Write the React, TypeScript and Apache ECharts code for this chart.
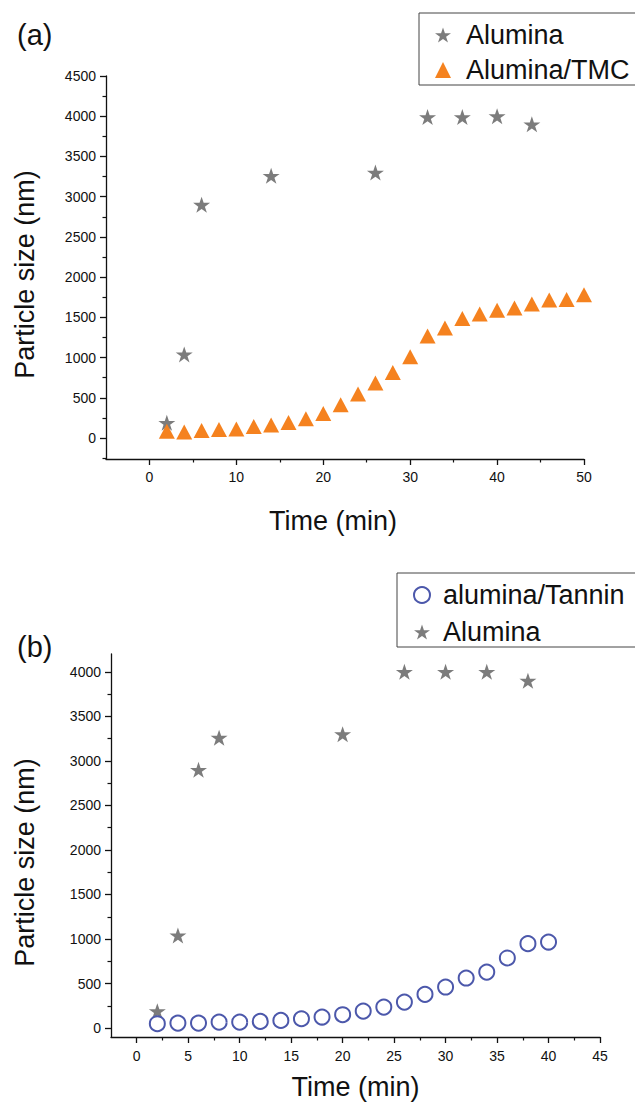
import React, { useEffect, useRef } from "react";
import * as echarts from "echarts";

// ---- Data ----
const timeAluminaA = [2, 4, 6, 14, 26, 32, 36, 40, 44];
const sizeAluminaA = [190, 1040, 2900, 3260, 3300, 3990, 3990, 4000, 3900];

const timeTMC = [2, 4, 6, 8, 10, 12, 14, 16, 18, 20, 22, 24, 26, 28, 30, 32, 34, 36, 38, 40, 42, 44, 46, 48, 50];
const sizeTMC = [85, 75, 93, 106, 112, 143, 162, 193, 240, 305, 414, 547, 684, 815, 1010, 1270, 1368, 1486, 1542, 1590, 1617, 1665, 1716, 1722, 1780];

const timeAluminaB = [2, 4, 6, 8, 20, 26, 30, 34, 38];
const sizeAluminaB = [190, 1040, 2900, 3260, 3300, 4000, 4000, 4000, 3900];

const timeTannin = [2, 4, 6, 8, 10, 12, 14, 16, 18, 20, 22, 24, 26, 28, 30, 32, 34, 36, 38, 40];
const sizeTannin = [49, 56, 56, 67, 67, 75, 86, 105, 124, 150, 191, 236, 292, 379, 461, 562, 629, 787, 948, 966];

const xTicksA = [0, 10, 20, 30, 40, 50];
const xMinorA = [5, 15, 25, 35, 45];
const yTicksA = [0, 500, 1000, 1500, 2000, 2500, 3000, 3500, 4000, 4500];
const yMinorA = [-250, 250, 750, 1250, 1750, 2250, 2750, 3250, 3750, 4250];

const xTicksB = [0, 5, 10, 15, 20, 25, 30, 35, 40, 45];
const xMinorB = [2.5, 7.5, 12.5, 17.5, 22.5, 27.5, 32.5, 37.5, 42.5];
const yTicksB = [0, 500, 1000, 1500, 2000, 2500, 3000, 3500, 4000];
const yMinorB = [250, 750, 1250, 1750, 2250, 2750, 3250, 3750];

const FONT = '"Liberation Sans", Arial, sans-serif';
const STAR = "path://M50 0 L61.8 35.1 L98.9 35.1 L68.9 56.8 L80.4 91.9 L50 70.2 L19.6 91.9 L31.1 56.8 L1.1 35.1 L38.2 35.1 Z";
const GRAY = "#7c7c7c";
const ORANGE = "#f5821f";
const BLUE = "#4c58ab";

function pairs(xs: number[], ys: number[]) {
  return xs.map((x, i) => [x, ys[i]]);
}

function mainAxis(grid: number, min: number, max: number, ticks: number[], margin: number, extra: any) {
  return {
    type: "value",
    gridIndex: grid,
    min,
    max,
    splitLine: { show: false },
    axisLine: { show: true, onZero: false, lineStyle: { color: "#111", width: 1.3 } },
    axisTick: { show: true, customValues: ticks, length: 6, lineStyle: { color: "#111", width: 1.3 } },
    axisLabel: {
      customValues: ticks,
      margin,
      color: "#111",
      fontSize: 14,
      fontFamily: FONT,
      formatter: (v: number) => String(v),
    },
    ...extra,
  };
}

function minorAxis(grid: number, min: number, max: number, ticks: number[], position: string) {
  return {
    type: "value",
    gridIndex: grid,
    position,
    min,
    max,
    splitLine: { show: false },
    axisLine: { show: false, onZero: false },
    axisTick: { show: true, customValues: ticks, length: 3.5, lineStyle: { color: "#111", width: 1.2 } },
    axisLabel: { show: false },
  };
}

export default function App() {
  const ref = useRef<HTMLDivElement>(null);
  useEffect(() => {
    if (!ref.current) return;
    const chart = echarts.init(ref.current, null, { renderer: "svg" });
    const nameStyle = { fontSize: 27, fontFamily: FONT, color: "#111" };
    const legendText = { fontSize: 27, fontFamily: FONT, color: "#111", lineHeight: 28 };
    chart.setOption({
      animation: false,
      backgroundColor: "#fff",
      grid: [
        { left: 106, top: 76, width: 478, height: 383 },
        { left: 111, top: 654, width: 489, height: 383 },
      ],
      xAxis: [
        mainAxis(0, -5, 50, xTicksA, 11, {
          position: "bottom",
          name: "Time (min)",
          nameLocation: "middle",
          nameGap: 48,
          nameTextStyle: { ...nameStyle, padding: [0, 24, 0, 0] },
        }),
        minorAxis(0, -5, 50, xMinorA, "bottom"),
        mainAxis(1, -2.5, 45, xTicksB, 12, {
          position: "bottom",
          name: "Time (min)",
          nameLocation: "middle",
          nameGap: 36,
          nameTextStyle: nameStyle,
        }),
        minorAxis(1, -2.5, 45, xMinorB, "bottom"),
      ],
      yAxis: [
        mainAxis(0, -260, 4500, yTicksA, 10, {
          position: "left",
          name: "Particle size (nm)",
          nameLocation: "middle",
          nameGap: 68,
          nameTextStyle: { ...nameStyle, padding: [0, 14, 0, 0] },
        }),
        minorAxis(0, -260, 4500, yMinorA, "left"),
        mainAxis(1, -100, 4200, yTicksB, 10, {
          position: "left",
          name: "Particle size (nm)",
          nameLocation: "middle",
          nameGap: 73,
          nameTextStyle: { ...nameStyle, padding: [0, 34, 0, 0] },
        }),
        minorAxis(1, -100, 4200, yMinorB, "left"),
      ],
      legend: [
        {
          orient: "vertical",
          left: 419,
          top: 13,
          data: ["Alumina", "Alumina/TMC"],
          itemWidth: 16,
          itemHeight: 16,
          itemGap: 7,
          padding: [8, 40, 1, 16],
          borderColor: "#444",
          borderWidth: 1,
          textStyle: { ...legendText, padding: [0, 0, 0, 10] },
          selectedMode: false,
        },
        {
          orient: "vertical",
          left: 397,
          top: 573,
          data: ["alumina/Tannin", "Alumina"],
          itemWidth: 16,
          itemHeight: 16,
          itemGap: 9,
          padding: [8, 40, 1, 16],
          borderColor: "#444",
          borderWidth: 1,
          textStyle: { ...legendText, padding: [0, 0, 0, 8] },
          selectedMode: false,
        },
      ],
      graphic: [
        { type: "text", left: 17, top: 20, style: { text: "(a)", fontSize: 29, fontFamily: FONT, fill: "#111" } },
        { type: "text", left: 17, top: 632, style: { text: "(b)", fontSize: 29, fontFamily: FONT, fill: "#111" } },
      ],
      series: [
        {
          type: "scatter",
          name: "Alumina",
          xAxisIndex: 0,
          yAxisIndex: 0,
          symbol: STAR,
          symbolKeepAspect: true,
          symbolSize: 17,
          itemStyle: { color: GRAY, opacity: 1 },
          data: pairs(timeAluminaA, sizeAluminaA),
          z: 2,
        },
        {
          type: "scatter",
          name: "Alumina/TMC",
          xAxisIndex: 0,
          yAxisIndex: 0,
          symbol: "triangle",
          symbolSize: [16, 15],
          itemStyle: { color: ORANGE, opacity: 1 },
          data: pairs(timeTMC, sizeTMC),
          z: 3,
        },
        {
          type: "scatter",
          name: "Alumina",
          xAxisIndex: 2,
          yAxisIndex: 2,
          symbol: STAR,
          symbolKeepAspect: true,
          symbolSize: 17,
          itemStyle: { color: GRAY, opacity: 1 },
          data: pairs(timeAluminaB, sizeAluminaB),
          z: 2,
        },
        {
          type: "scatter",
          name: "alumina/Tannin",
          xAxisIndex: 2,
          yAxisIndex: 2,
          symbol: "emptyCircle",
          symbolSize: 15,
          itemStyle: { color: BLUE, borderWidth: 1.5, opacity: 1 },
          data: pairs(timeTannin, sizeTannin),
          z: 3,
        },
      ],
    });
    return () => chart.dispose();
  }, []);
  return (
    <div
      ref={ref}
      style={{ position: "absolute", left: 0, top: 0, width: 635, height: 1102, background: "#fff" }}
    />
  );
}
